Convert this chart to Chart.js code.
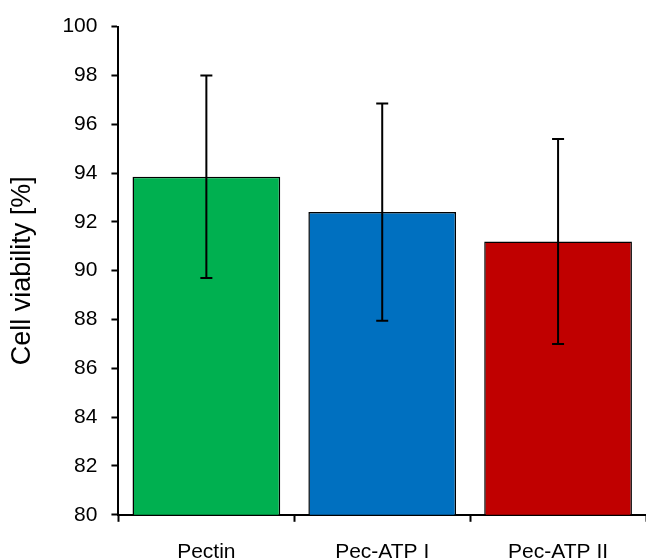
<!DOCTYPE html>
<html>
<head>
<meta charset="utf-8">
<script src="https://cdn.jsdelivr.net/npm/chart.js@4"></script>
<style>
  html, body { margin: 0; padding: 0; background: #fff; }
  #wrap { width: 646px; height: 560px; }
</style>
</head>
<body>
<div id="wrap"><canvas id="viabilityChart" width="646" height="560"></canvas></div>
<script>
const categories = ['Pectin', 'Pec-ATP I', 'Pec-ATP II'];
const viability = [93.85, 92.4, 91.2];
const errLow = [89.7, 87.95, 87.0];
const errHigh = [98.0, 96.85, 95.4];
const barColors = ['#00B050', '#0070C0', '#C00000'];
const yTicks = [80, 82, 84, 86, 88, 90, 92, 94, 96, 98, 100];

// draws the whiskers with the y scale of the chart
const errorBars = {
  id: 'errorBars',
  afterDatasetsDraw(chart) {
    const ctx = chart.ctx;
    const y = chart.scales.y;
    const meta = chart.getDatasetMeta(0);
    ctx.save();
    ctx.strokeStyle = '#000';
    ctx.lineWidth = 2;
    meta.data.forEach((bar, i) => {
      const x = bar.x;
      const top = y.getPixelForValue(errHigh[i]);
      const bottom = y.getPixelForValue(errLow[i]);
      ctx.beginPath();
      ctx.moveTo(x, top);
      ctx.lineTo(x, bottom);
      ctx.moveTo(x - 6, top);
      ctx.lineTo(x + 6, top);
      ctx.moveTo(x - 6, bottom);
      ctx.lineTo(x + 6, bottom);
      ctx.stroke();
    });
    ctx.restore();
  }
};

const ctx = document.getElementById('viabilityChart').getContext('2d');
const viabilityChart = new Chart(ctx, {
  type: 'bar',
  data: {
    labels: categories,
    datasets: [
      {
        label: 'Cell viability',
        data: viability,
        backgroundColor: barColors,
        borderColor: '#000',
        borderWidth: 1.5,
        borderSkipped: 'bottom',
        categoryPercentage: 0.84,
        barPercentage: 1.0,
      },
    ],
  },
  options: {
    responsive: false,
    animation: false,
    layout: { padding: { top: 9, right: 0, left: 6, bottom: -23 } },
    plugins: {
      legend: { display: false },
      tooltip: { enabled: false },
    },
    scales: {
      x: {
        grid: {
          display: true,
          drawOnChartArea: false,
          drawTicks: true,
          tickLength: 7,
          tickColor: '#000',
          tickWidth: 2,
        },
        border: { display: true, color: '#000', width: 2 },
        ticks: {
          color: '#000',
          padding: 18,
          font: { family: '"Liberation Sans", Arial', size: 21 },
        },
      },
      y: {
        min: 80,
        max: 100,
        afterBuildTicks: (axis) => {
          axis.ticks = yTicks.map((v) => ({ value: v }));
        },
        grid: {
          display: true,
          drawOnChartArea: false,
          drawTicks: true,
          tickLength: 7,
          tickColor: '#000',
          tickWidth: 2,
        },
        border: { display: true, color: '#000', width: 2 },
        ticks: {
          color: '#000',
          padding: 14,
          font: { family: '"Liberation Sans", Arial', size: 21 },
        },
        title: {
          display: true,
          text: 'Cell viability [%]',
          color: '#000',
          padding: { top: 0, bottom: 10 },
          font: { family: '"Liberation Sans", Arial', size: 27 },
        },
      },
    },
  },
  plugins: [errorBars],
});
</script>
</body>
</html>
